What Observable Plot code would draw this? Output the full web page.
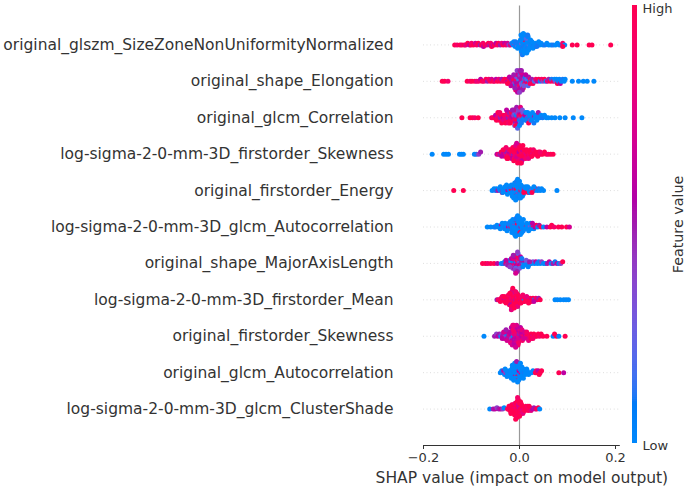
<!DOCTYPE html>
<html>
<head>
<meta charset="utf-8">
<script src="https://cdn.jsdelivr.net/npm/d3@7"></script>
<script src="https://cdn.jsdelivr.net/npm/@observablehq/plot@0.6"></script>
<style>
  html, body { margin: 0; padding: 0; background: #ffffff; }
  #wrap { position: relative; width: 685px; height: 489px; overflow: hidden; }
  #wrap > svg, #wrap > figure { position: absolute; left: 0; top: 0; margin: 0; }
  #cbar { pointer-events: none; }
</style>
</head>
<body>
<div id="wrap"></div>
<script>
// ---------- data ----------
const features = [
  "original_glszm_SizeZoneNonUniformityNormalized",
  "original_shape_Elongation",
  "original_glcm_Correlation",
  "log-sigma-2-0-mm-3D_firstorder_Skewness",
  "original_firstorder_Energy",
  "log-sigma-2-0-mm-3D_glcm_Autocorrelation",
  "original_shape_MajorAxisLength",
  "log-sigma-2-0-mm-3D_firstorder_Mean",
  "original_firstorder_Skewness",
  "original_glcm_Autocorrelation",
  "log-sigma-2-0-mm-3D_glcm_ClusterShade"
];
const xTicks = [-0.2, 0.0, 0.2];
const xLabel = "SHAP value (impact on model output)";
const colorLabels = ["Low", "High"];
const colorTitle = "Feature value";

// SHAP values (x) and feature values (0 = low, 10 = high) per feature
const sznun_x = [-0.135,-0.13,-0.124,-0.12,-0.115,-0.112,-0.108,-0.104,-0.101,-0.1,-0.096,-0.092,-0.089,-0.086,-0.082,-0.079,-0.076,-0.075,-0.072,-0.068,-0.065,-0.062,-0.06,-0.058,-0.055,-0.052,-0.049,-0.046,-0.044,-0.04,-0.037,-0.034,-0.031,-0.028,-0.025,-0.022,-0.019,
  -0.016,-0.013,-0.011,-0.009,-0.007,-0.005,-0.004,-0.002,-0.001,0,0.001,0.002,0.003,0.004,0.005,0.005,0.006,0.007,0.008,0.008,0.009,0.01,0.01,0.011,0.012,0.012,0.013,0.014,0.015,0.015,0.016,0.017,0.018,0.019,0.02,0.021,0.022,0.024,0.025,0.027,0.029,0.031,0.033,0.036,0.039,0.042,0.045,0.049,0.053,0.057,0.061,0.066,0.07,0.075,0.079,0.083,0.087,0.09,0.094,
  0.002,0.004,0.006,0.007,0.009,0.011,0.013,0.014,0.016,0.018,0.003,0.006,0.008,0.01,0.012,0.015,0.017,0.02,0.023,0.026,
  -0.012,-0.008,-0.004,0.028,0.032,0.036,0.04,
  0.09,0.11,0.12,0.145,0.151,0.19];
const sznun_c = [10,9,10,9,10,8,10,6,10,9,10,7,9,10,5,10,9,6,10,8,10,5,9,10,7,10,6,9,10,5,8,10,6,9,7,4,8,
  1,0,4,0,1,0,2,0,1,0,0,1,0,3,0,0,1,0,0,2,0,0,1,0,0,10,0,1,0,0,0,1,0,0,2,0,0,1,0,0,1,0,0,0,1,0,0,0,1,0,0,0,1,0,0,0,1,9,0,
  0,0,1,0,0,0,0,2,0,0,0,1,0,0,0,0,1,0,0,0,
  0,1,0,0,0,1,0,
  10,10,10,10,10,10];

const elong_x = [-0.161,-0.156,-0.149,-0.109,-0.103,-0.099,-0.093,-0.089,-0.085,-0.081,-0.078,-0.074,-0.07,-0.067,-0.064,-0.061,-0.058,-0.055,-0.052,-0.049,-0.046,-0.043,-0.04,-0.037,-0.034,-0.031,
  -0.028,-0.026,-0.024,-0.022,-0.02,-0.019,-0.017,-0.016,-0.014,-0.013,-0.012,-0.011,-0.01,-0.009,-0.008,-0.007,-0.006,-0.006,-0.005,-0.004,-0.004,-0.003,-0.002,-0.002,-0.001,0,0,0.001,0.002,0.002,0.003,0.004,0.004,0.005,0.006,0.007,0.008,0.009,0.01,0.011,0.012,0.014,0.015,0.017,0.019,0.021,0.023,0.025,
  -0.018,-0.012,-0.008,-0.005,-0.002,0.001,0.003,0.006,0.009,0.013,-0.01,-0.004,0,0.004,
  -0.025,-0.021,0.018,0.022,0.026,
  0.028,0.031,0.034,0.037,0.04,0.043,0.046,0.049,0.052,0.055,0.058,0.061,0.064,0.067,0.07,0.073,0.075,0.077,0.079,0.081,0.083,0.085,0.087,0.09,0.093,0.095,0.11,0.123,0.133,0.141,0.155];
const elong_c = [10,10,9,10,9,10,10,8,9,6,10,9,10,5,9,10,7,10,9,6,10,8,10,5,9,10,
  9,10,6,9,3,10,5,8,2,6,10,4,7,1,5,9,6,3,5,8,4,6,5,2,6,5,9,4,6,1,5,7,3,5,2,6,10,0,4,9,1,6,2,10,5,1,9,2,
  6,5,9,4,6,5,7,5,3,6,5,6,4,5,
  10,6,2,9,5,
  10,2,9,6,10,1,9,4,10,0,8,5,10,1,9,0,3,0,10,1,0,6,0,1,0,0,0,0,0,0,0];

const corr_x = [-0.12,-0.103,-0.098,-0.093,-0.086,-0.058,-0.055,-0.052,-0.05,-0.048,-0.046,-0.044,-0.042,-0.04,-0.038,-0.036,-0.034,-0.032,-0.03,-0.028,-0.026,-0.024,-0.022,-0.02,-0.018,-0.016,-0.014,
  -0.025,-0.021,-0.017,-0.013,-0.012,-0.011,-0.01,-0.009,-0.008,-0.007,-0.006,-0.005,-0.004,-0.003,-0.002,-0.001,0,0.001,0.002,0.003,0.004,0.005,0.007,0.009,0.011,-0.012,-0.01,-0.008,-0.006,-0.004,-0.002,0,0.002,0.004,0.006,
  -0.045,-0.041,-0.037,-0.033,-0.029,-0.027,-0.023,-0.019,-0.015,0.013,0.016,0.019,0.022,0.026,0.029,0.033,0.037,0.041,
  0.013,0.015,0.017,0.019,0.021,0.023,0.025,0.027,0.03,0.033,0.036,0.039,0.042,0.045,0.048,0.052,0.056,0.06,0.067,0.074,0.084,0.095,0.112,0.13];
const corr_c = [10,10,10,9,10,10,9,10,6,10,9,8,10,5,10,9,6,10,8,9,10,5,9,10,7,6,9,
  9,5,10,6,4,9,2,5,8,1,10,4,6,2,5,9,1,6,2,4,10,1,3,0,6,7,3,10,5,2,4,0,8,1,3,
  10,9,10,8,10,6,9,10,5,0,1,4,0,0,5,0,1,0,
  0,1,0,10,0,4,0,0,1,0,0,5,0,0,1,0,0,0,0,0,0,0,0,0];

const lsskew_x = [-0.182,-0.158,-0.153,-0.148,-0.125,-0.121,-0.117,-0.094,-0.09,-0.085,-0.081,
  -0.047,-0.044,-0.041,-0.038,-0.035,-0.033,-0.031,-0.029,-0.027,-0.025,-0.023,-0.021,-0.02,-0.018,-0.016,-0.015,-0.013,-0.012,-0.01,-0.009,-0.008,-0.006,-0.005,-0.004,-0.002,-0.001,0,0.001,0.002,0.003,0.004,0.005,0.006,0.008,0.009,0.011,0.012,0.014,0.016,0.018,0.02,0.022,0.024,0.027,0.03,0.033,0.036,0.04,0.044,0.048,0.052,0.056,0.06,0.065,0.07,
  -0.03,-0.026,-0.022,-0.019,-0.017,-0.014,-0.011,-0.009,-0.007,-0.005,-0.003,-0.001,0.001,0.003,0.005,0.007,0.01,0.013,-0.012,-0.008,-0.004,0,0.004,-0.006,0.002,
  -0.037,-0.034,-0.028,-0.024,0.015,0.019,0.023,0.026,0.029,0.034,0.038,0.043];
const lsskew_c = [0,0,0,0,0,0,0,0,1,4,5,
  6,9,5,10,7,6,10,8,5,10,9,6,10,7,10,9,5,10,8,10,9,10,7,10,9,6,10,10,8,10,9,10,7,10,10,9,10,8,10,10,9,10,10,8,10,9,10,10,9,10,10,10,9,10,10,
  5,10,8,10,6,10,9,10,7,10,8,10,9,10,6,10,10,9,10,8,10,10,9,7,10,
  6,10,9,10,10,8,10,10,9,10,10,9];

const energy_x = [-0.137,-0.117,-0.057,-0.053,-0.05,
  -0.048,-0.045,-0.042,-0.04,-0.038,-0.036,-0.034,-0.032,-0.03,-0.028,-0.026,-0.024,-0.022,-0.02,-0.019,-0.018,-0.016,-0.015,-0.014,-0.012,-0.011,-0.01,-0.009,-0.008,-0.007,-0.006,-0.005,-0.004,-0.003,-0.002,-0.001,0,0.001,0.002,0.003,0.004,0.005,0.007,0.008,0.01,0.012,0.014,0.016,0.018,0.02,0.022,0.025,0.028,0.031,0.034,0.037,0.04,0.043,0.046,0.05,
  -0.03,-0.025,-0.021,-0.017,-0.013,-0.011,-0.009,-0.007,-0.005,-0.003,-0.001,0.001,0.003,0.006,0.009,0.013,-0.015,-0.01,-0.006,-0.002,0.002,-0.012,-0.008,-0.004,0,
  -0.04,-0.035,-0.027,0.017,0.021,0.026,0.03,
  0.078];
const energy_c = [10,10,0,0,1,
  0,5,0,0,1,8,0,0,0,1,0,6,0,0,0,10,0,1,0,0,5,0,0,0,10,0,0,4,0,0,0,1,0,0,10,0,0,1,0,9,0,0,0,10,0,0,3,0,0,10,0,1,0,0,0,
  0,0,1,0,0,0,6,0,0,1,0,0,0,0,10,0,0,0,1,0,0,0,0,0,0,
  0,0,0,0,0,10,0,
  0];

const lsauto_x = [-0.067,-0.06,-0.053,-0.05,-0.047,-0.044,-0.041,-0.038,-0.035,-0.033,-0.031,-0.029,-0.027,-0.025,-0.023,-0.021,-0.02,-0.018,-0.017,-0.016,-0.015,-0.014,-0.013,-0.012,-0.011,-0.01,-0.009,-0.008,-0.007,-0.006,-0.005,-0.004,-0.003,-0.002,-0.001,0,0.001,0.002,0.003,0.004,0.005,0.006,0.008,0.01,0.012,0.014,0.016,0.018,0.02,0.022,0.024,0.026,0.028,0.03,0.032,0.035,0.038,0.041,0.045,0.05,0.057,0.064,0.067,0.072,0.081,0.088,0.098,0.104,
  -0.03,-0.026,-0.022,-0.019,-0.016,-0.013,-0.011,-0.009,-0.007,-0.005,-0.003,-0.001,0.001,0.003,0.005,0.008,0.011,-0.014,-0.01,-0.006,-0.002,0.002,-0.008,-0.004,0,
  -0.04,-0.036,0.015,0.019,0.023,0.027];
const lsauto_c = [0,0,0,1,0,0,0,5,0,0,0,1,0,0,6,0,0,10,0,0,0,1,0,0,0,4,0,0,0,0,10,0,0,1,0,0,0,0,5,0,0,0,1,0,0,9,0,0,0,3,0,0,10,0,6,10,0,5,10,0,6,10,10,9,10,10,10,7,
  0,0,1,0,0,0,0,5,0,0,0,0,10,0,0,0,0,0,0,1,0,0,0,0,0,
  0,0,0,0,0,6];

const major_x = [-0.077,-0.071,-0.066,-0.06,-0.053,-0.046,-0.038,-0.034,-0.031,-0.029,-0.027,-0.025,-0.023,-0.021,-0.019,-0.017,-0.016,-0.015,-0.014,-0.013,-0.012,-0.011,-0.01,-0.009,-0.008,-0.007,-0.006,-0.005,-0.004,-0.003,-0.002,-0.001,0,0.001,0.002,0.004,0.006,0.008,0.01,0.012,0.014,0.016,0.019,0.022,0.025,0.028,0.031,0.034,0.037,0.04,0.043,0.046,0.05,0.054,0.058,0.062,0.066,0.07,0.074,0.078,0.082,0.086,0.09,
  -0.024,-0.02,-0.017,-0.014,-0.012,-0.01,-0.008,-0.006,-0.004,-0.002,0,0.003,0.007,-0.011,-0.009,-0.007,-0.005,-0.003,0.002,0.005,-0.013,-0.008,-0.004,
  0.01,0.014,0.018,0.021,-0.028,-0.02];
const major_c = [10,10,9,10,10,6,0,1,0,5,10,4,0,8,5,2,10,5,3,6,0,9,5,4,7,1,6,10,5,3,8,4,6,2,10,5,1,3,0,6,4,0,1,5,0,3,0,6,0,1,0,4,0,0,5,6,0,5,1,6,0,4,10,
  5,0,6,4,8,5,2,6,4,9,3,5,0,6,4,10,5,2,6,1,5,7,4,
  0,3,0,5,6,4];

const lsmean_x = [-0.047,-0.044,-0.041,-0.038,-0.035,-0.033,-0.031,-0.029,-0.027,-0.025,-0.024,-0.023,-0.022,-0.021,-0.02,-0.019,-0.018,-0.017,-0.016,-0.015,-0.014,-0.013,-0.012,-0.011,-0.01,-0.009,-0.008,-0.007,-0.006,-0.005,-0.004,-0.003,-0.002,0,0.002,0.004,0.006,0.008,0.01,0.012,0.014,0.016,0.018,0.02,0.022,0.025,0.028,0.031,0.034,0.037,0.04,0.043,0.074,0.079,0.085,0.092,0.097,0.102,
  -0.026,-0.023,-0.021,-0.019,-0.018,-0.017,-0.016,-0.015,-0.014,-0.013,-0.012,-0.011,-0.01,-0.009,-0.008,-0.006,-0.004,-0.002,0.001,0.005,-0.02,-0.017,-0.014,-0.011,-0.008,
  -0.04,-0.036,-0.032,-0.028,0.003,0.007,0.011,0.015,0.019,0.024,0.03];
const lsmean_c = [5,10,8,10,9,6,10,10,7,10,10,9,10,6,10,10,8,10,9,10,10,7,10,10,9,10,5,10,10,8,10,9,10,10,7,10,9,10,0,10,9,10,8,10,10,6,10,0,9,10,5,10,0,0,0,0,0,0,
  10,9,10,6,10,10,9,10,7,10,10,9,10,5,10,10,8,10,10,9,10,8,10,10,9,
  10,9,10,10,10,9,10,8,10,10,6];

const foskew_x = [-0.074,-0.052,-0.048,-0.045,-0.042,-0.039,-0.037,-0.035,-0.033,-0.031,-0.029,-0.027,-0.025,-0.023,-0.021,-0.02,-0.019,-0.018,-0.017,-0.016,-0.015,-0.014,-0.013,-0.012,-0.011,-0.01,-0.009,-0.008,-0.007,-0.006,-0.005,-0.004,-0.003,-0.002,-0.001,0,0.002,0.004,0.006,0.008,0.01,0.012,0.014,0.016,0.018,0.021,0.024,0.027,0.03,0.033,0.036,0.039,0.042,0.045,0.049,0.057,0.07,0.073,0.077,0.082,0.095,
  -0.03,-0.026,-0.022,-0.019,-0.017,-0.015,-0.013,-0.011,-0.009,-0.007,-0.005,-0.003,-0.001,0.001,0.003,0.006,0.009,-0.014,-0.01,-0.006,-0.002,0.002,-0.012,-0.008,
  -0.036,-0.033,-0.028,0.005,0.011,0.015,0.019,0.024,0.028];
const foskew_c = [0,5,4,6,5,0,4,6,5,7,4,0,6,5,8,5,7,6,4,8,6,7,0,8,6,9,5,7,8,6,9,7,6,8,5,7,9,6,8,7,9,6,8,10,7,9,10,8,10,9,10,10,9,10,10,10,0,10,10,0,10,
  5,7,6,8,6,7,9,6,8,7,6,9,7,8,6,9,7,8,6,7,9,6,8,7,
  6,7,5,8,7,9,8,10,9];

const glauto_x = [-0.04,-0.037,-0.035,-0.033,-0.031,-0.029,-0.027,-0.025,-0.023,-0.021,-0.019,-0.018,-0.017,-0.016,-0.015,-0.014,-0.013,-0.012,-0.011,-0.01,-0.009,-0.008,-0.007,-0.006,-0.005,-0.004,-0.003,-0.002,-0.001,0,0.001,0.002,0.003,0.004,0.006,0.008,0.01,0.012,0.014,0.016,0.019,0.022,0.025,0.028,0.033,0.035,0.037,0.039,0.041,0.043,0.046,0.082,0.092,
  -0.02,-0.017,-0.015,-0.013,-0.011,-0.009,-0.007,-0.005,-0.003,-0.001,0.001,0.003,0.005,0.008,-0.012,-0.008,-0.004,0,-0.01,-0.006,-0.002,0.002,
  -0.03,-0.026,0.012,0.015];
const glauto_c = [0,0,0,5,0,4,0,0,0,0,1,0,0,0,0,0,1,0,0,0,5,0,0,0,0,10,0,0,6,0,0,0,7,0,0,0,1,0,0,0,0,0,0,0,10,9,10,6,10,10,10,10,6,
  0,0,0,0,0,0,0,0,10,0,0,0,0,0,0,0,0,0,0,5,0,0,
  0,0,0,0];

const shade_x = [-0.062,-0.055,-0.051,-0.047,-0.043,-0.039,-0.035,-0.032,-0.025,-0.023,-0.021,-0.019,-0.017,-0.016,-0.015,-0.014,-0.013,-0.012,-0.011,-0.01,-0.009,-0.008,-0.007,-0.006,-0.005,-0.004,-0.003,-0.002,-0.001,0,0.001,0.002,0.003,0.004,0.005,0.006,0.008,0.01,0.012,0.014,0.016,0.018,0.02,0.022,0.024,0.027,0.03,0.033,0.036,0.039,0.042,
  -0.02,-0.016,-0.013,-0.011,-0.009,-0.008,-0.007,-0.006,-0.005,-0.004,-0.003,-0.002,-0.001,0,0.001,0.002,0.004,0.007,0.011,-0.01,-0.006,-0.003,0,0.003,-0.008,-0.004,
  -0.022,-0.018,0.013,0.017,0.02];
const shade_c = [0,5,6,4,5,6,4,0,10,9,10,8,10,10,9,10,7,10,10,9,10,10,8,10,10,9,10,10,7,10,10,9,10,10,8,10,10,9,10,10,7,10,9,10,8,6,5,6,10,10,0,
  10,9,10,10,8,10,10,9,10,10,10,7,10,10,9,10,10,8,10,10,9,10,10,10,10,9,
  10,10,10,9,10];

// ---------- assemble ----------
const rowsX = [sznun_x, elong_x, corr_x, lsskew_x, energy_x, lsauto_x, major_x, lsmean_x, foskew_x, glauto_x, shade_x];
const rowsC = [sznun_c, elong_c, corr_c, lsskew_c, energy_c, lsauto_c, major_c, lsmean_c, foskew_c, glauto_c, shade_c];
const nRows = features.length;

// SHAP-style beeswarm offsets (binning of x, alternating layers)
function swarmOffsets(xs, binW) {
  const q = xs.map(x => Math.round(x / binW));
  const idx = d3.range(xs.length).sort((a, b) => q[a] - q[b] || a - b);
  const ys = new Array(xs.length);
  let layer = 0, last = null;
  for (const i of idx) {
    if (q[i] !== last) layer = 0;
    ys[i] = Math.ceil(layer / 2) * ((layer % 2) * 2 - 1);
    layer++;
    last = q[i];
  }
  const m = d3.max(ys, y => y + 1);
  return ys.map(y => y * 0.9 * 0.4 / m);
}

const points = [];
features.forEach((f, i) => {
  const pos = nRows - 1 - i;
  const offs = swarmOffsets(rowsX[i], 0.0055);
  rowsX[i].forEach((x, j) => points.push({feature: f, x, y: pos + offs[j], c: rowsC[i][j]}));
});

// SHAP red_blue colormap (LCH interpolation)
function shapRedBlue(t) {
  t = Math.max(0, Math.min(1, t));
  const l = t < 0.5 ? 54 + (40 - 54) * (t / 0.5) : 40 + (54 - 40) * ((t - 0.5) / 0.5);
  const c = 70 + 20 * t;
  const h = 266.93 + (380.32 - 266.93) * t;
  return d3.hcl(h % 360, c, l).formatHex();
}

const font = "DejaVu Sans, Verdana, sans-serif";

const chart = Plot.plot({
  width: 685,
  height: 489,
  marginLeft: 423,
  marginRight: 65.2,
  marginTop: 8,
  marginBottom: 44,
  style: {fontFamily: font, background: "transparent", color: "#333333", overflow: "visible"},
  x: {domain: [-0.2, 0.21]},
  y: {domain: [-1, nRows]},
  color: {type: "linear", domain: [0, 10], interpolate: shapRedBlue},
  marks: [
    Plot.ruleY(d3.range(nRows), {y: d => d, stroke: "#cccccc", strokeWidth: 0.8, strokeDasharray: "0.8,2.8"}),
    Plot.ruleX([0], {y1: -1, y2: nRows + 0.07, stroke: "#999999", strokeWidth: 1.2}),
    Plot.dot(points, {x: "x", y: "y", r: 2.5, fill: "c", stroke: null}),
    Plot.ruleY([-1], {stroke: "#333333", strokeWidth: 1}),
    Plot.axisX({ticks: xTicks, tickFormat: d3.format(".1f"), tickSize: 4, tickPadding: 3, fontSize: 13, label: null, stroke: "#333333"}),
    Plot.axisY({ticks: d3.range(nRows), tickFormat: i => features[nRows - 1 - i], tickSize: 0, tickPadding: 30, fontSize: 15.5, label: null}),
    Plot.text([xLabel], {frameAnchor: "bottom", lineAnchor: "middle", dy: 33, fontSize: 15.5, fill: "#333333"})
  ]
});

// colour bar overlay
const ts = d3.range(0, 1, 0.005);
const cbar = Plot.plot({
  width: 685,
  height: 489,
  marginLeft: 632,
  marginRight: 48,
  marginTop: 5,
  marginBottom: 46,
  style: {fontFamily: font, background: "transparent", color: "#333333", overflow: "visible"},
  x: {domain: [0, 1], axis: null},
  y: {domain: [0, 1], axis: null},
  color: {type: "linear", domain: [0, 1], interpolate: shapRedBlue},
  marks: [
    Plot.rect(ts, {x1: 0, x2: 1, y1: d => d, y2: d => Math.min(1, d + 0.007), fill: d => d + 0.0025}),
    Plot.text([colorLabels[1]], {x: 1, y: 1, dx: 5, dy: 3, textAnchor: "start", fontSize: 13, fill: "#333333"}),
    Plot.text([colorLabels[0]], {x: 1, y: 0, dx: 5, dy: 2, textAnchor: "start", fontSize: 13, fill: "#333333"}),
    Plot.text([colorTitle], {x: 1, y: 0.5, dx: 41, rotate: -90, fontSize: 14.3, fill: "#333333"})
  ]
});
cbar.id = "cbar";

const wrap = document.getElementById("wrap");
wrap.appendChild(chart);
wrap.appendChild(cbar);
</script>
</body>
</html>
